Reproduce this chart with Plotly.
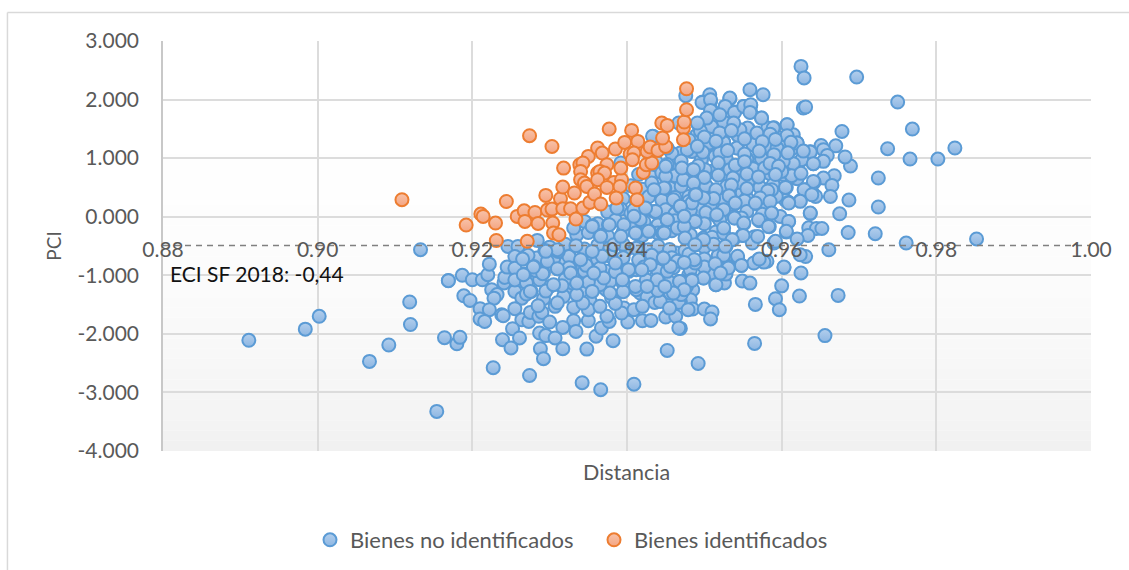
import plotly.graph_objects as go

x_ticks = [0.88, 0.90, 0.92, 0.94, 0.96, 0.98, 1.00]
x_ticklabels = ["0.88", "0.90", "0.92", "0.94", "0.96", "0.98", "1.00"]
y_ticks = [3, 2, 1, 0, -1, -2, -3, -4]
y_ticklabels = ["3.000", "2.000", "1.000", "0.000", "-1.000", "-2.000", "-3.000", "-4.000"]
eci_x = [0.88, 1.00]
eci_y = [-0.49, -0.49]

blue_outer = [
(.8911,-2.11),(.8984,-1.92),(.9002,-1.70),(.9067,-2.47),(.9092,-2.19),(.9120,-1.84),(.9119,-1.456),(.9133,-.563),
(.9154,-3.324),(.9164,-2.066),(.9180,-2.17),(.9184,-2.06),(.9169,-1.09),(.9625,2.566),(.9629,2.37),(.9697,2.385),
(.9750,1.958),(.9628,1.856),(.9631,1.873),(.9678,1.456),(.9769,1.497),(.9737,1.161),(.9824,1.173),(.9766,.985),
(.9802,.985),(.9725,.661),(.9725,.166),(.9687,.285),(.9675,.05),(.9686,-.27),(.9721,-.29),(.9761,-.45),(.9852,-.38),
(.9689,.865),(.9682,1.02),(.9670,1.21),(.9651,1.217),(.9654,1.144),(.9659,1.047),(.9654,.945),(.9641,.905),(.9637,1.11),
(.9668,.70),(.9654,.66),(.9642,.59),(.9665,.535),(.9631,.46),(.964,.405),(.9644,.347),(.9663,.347),(.9624,.273),(.9637,.056),
(.9609,.24),(.9605,.28),(.9566,.227),(.9609,-.08),(.9635,-.19),(.9645,-.2),(.9652,-.2),(.9606,-.26),(.9634,-.32),(.962,-.38),
(.959,-.45),(.9584,-.17),(.9571,-.07),(.9551,-.12),(.9549,-.32),(.9565,-.34),(.9562,-.45),(.9661,-.565),
]
blue_lower_right = [
(.9631,-.68),(.9624,-.65),(.9603,-.865),(.9625,-.96),(.9600,-1.18),(.9623,-1.354),(.9673,-1.343),(.9592,-1.4),(.9597,-1.588),
(.9566,-1.497),(.9656,-2.03),(.9565,-2.163),(.9492,-2.505),(.9549,-1.098),(.9559,-1.133),(.9515,-1.16),(.9526,-1.13),
(.9499,-1.047),(.9528,-.98),(.9518,-.99),(.9510,-.96),(.9548,-.83),(.9532,-.85),(.9515,-.79),(.9581,-.76),(.9570,-.735),
(.9577,-.775),(.9564,-.79),(.9543,-.70),(.9518,-.665),(.9488,-.48),(.9488,-.745),(.9474,-.78),(.9484,-1.087),(.948,-.99),
(.9471,-1.10),(.9475,-1.246),(.9485,-1.246),(.9482,-1.417),(.9469,-1.446),(.9485,-1.576),(.950,-1.576),(.9510,-1.627),
(.9508,-1.746),(.9469,-1.907),
]
blue_lower_left = [
(.9169,-1.093),(.9187,-1.0),(.9200,-1.076),(.9213,-1.076),(.9220,-.99),(.9222,-.81),(.9189,-1.35),(.9197,-1.43),(.9225,-1.246),
(.9232,-1.33),(.9228,-1.39),(.9241,-1.13),(.9242,-1.036),(.9255,-1.275),(.9276,-1.275),(.9264,-1.39),(.9255,-1.57),(.9210,-1.57),
(.9222,-1.588),(.9210,-1.746),(.9216,-1.787),(.9238,-1.673),(.9240,-1.69),(.9264,-1.76),(.9273,-1.787),(.9275,-1.634),(.9286,-1.70),
(.9290,-1.634),(.930,-1.798),(.9252,-1.912),(.9287,-1.986),(.9295,-2.03),(.9239,-2.10),(.9261,-2.07),(.9250,-2.24),(.9307,-2.07),
(.9317,-2.254),(.9288,-2.254),(.9292,-2.424),(.9227,-2.578),(.9274,-2.71),(.9342,-2.834),(.9366,-2.954),(.9409,-2.86),(.9452,-2.283),
(.9348,-2.26),(.9382,-2.117),(.9360,-2.04),(.9367,-1.90),(.9377,-1.787),(.9374,-1.70),(.9331,-1.776),(.9317,-1.89),(.9334,-1.958),
(.9401,-1.798),(.942,-1.776),(.9431,-1.77),(.9450,-1.713),(.9463,-1.70),(.9467,-1.90),(.9350,-1.776),(.9396,-1.56),(.9393,-1.644),
(.9409,-1.588),(.9380,-1.378),(.9411,-1.218),(.9417,-1.303),(.9426,-1.37),(.9436,-1.463),(.9451,-1.463),(.9467,-1.463),(.9462,-1.303),
(.9447,-1.19),(.9393,-1.076),(.9356,-1.26),(.9373,-1.246),(.9344,-1.303),(.9352,-1.43),(.9350,-1.588),(.9331,-1.548),(.9307,-1.53),
(.9292,-1.40),(.9316,-1.19),(.9328,-1.234),(.9310,-.888),(.9292,-.96),(.9280,-1.02),(.9268,-.98),(.9296,-.763),(.9265,-.72),(.9245,-.86),
(.9294,-.575),(.9311,-.592),(.9333,-.49),(.9347,-.83),(.9368,-.68),(.9413,-.29),
(.9246,-.507),(.9259,-.507),(.9283,-.706),(.9320,-.791),(.9330,-.962),(.9356,-.649),(.9343,-.848),(.9374,-.933),(.9387,-.791),
(.9402,-.933),(.9412,-.905),(.9430,-.82),(.9455,-.848),(.9443,-.592),(.9464,-.62),(.9468,-1.104),(.9438,-1.019),(.9412,-1.246),
(.9343,-1.474),(.9300,-1.19),(.9318,-1.36),(.9287,-1.076),(.9330,-1.133),(.9378,-1.104),(.9365,-1.161),(.9443,-1.446),(.9479,-1.588),
(.9477,-1.19),(.9428,-.563),(.9399,-.563),(.9352,-.791),(.9326,-.563),(.9279,-.848),
]
blue_upper = [
(.9559,2.168),(.9576,2.083),(.9507,2.083),(.9508,1.968),(.9498,1.958),(.9533,2.015),(.9527,1.883),(.9539,1.787),(.9551,1.883),(.9560,1.90),
(.9560,1.787),(.9509,1.827),(.9574,1.685),(.9525,1.617),(.9492,1.588),(.9510,1.53),(.9557,1.502),(.9590,1.52),(.9582,1.515),(.9607,1.57),
(.9608,1.383),(.9615,1.40),(.9620,1.258),(.9598,1.344),(.9600,1.19),(.9613,1.16),(.9582,1.20),(.9563,1.23),(.9543,1.173),(.9544,1.383),
(.9525,1.275),(.9507,1.246),(.9490,1.383),(.9574,.996),(.9555,.985),(.9528,.996),(.9496,.961),(.9626,.973),(.9615,.905),(.9603,.927),
(.9563,.83),(.9577,.842),(.9540,.79),(.9509,.774),(.9485,.802),(.9585,.734),(.9603,.717),(.9613,.688),(.9620,.649),(.9528,.705),(.9548,.575),
(.9557,.603),(.9572,.507),(.9590,.546),(.9606,.50),(.9502,.534),(.9480,.632),(.9489,.393),(.9526,.278),(.9540,.234),(.9577,.176),(.9587,.063),
(.9598,.005),(.9515,.022),(.9539,-.022),(.9488,-.08),(.9475,-.176),(.9524,-.193),(.9515,-.26),(.9499,-.364),(.9537,-.393),(.9528,-.507),
(.9486,-.478),(.9593,.347),(.9533,.46),(.9514,.376),(.9499,.32),(.9477,.176),(.9495,.12),(.9549,.405),
(.9533,2.026),(.9497,1.952),(.9508,1.997),(.9527,1.883),(.9508,1.815),(.9539,1.781),(.9551,1.883),(.9560,1.912),(.9559,1.781),(.9574,1.684),
(.9589,1.514),(.9607,1.57),(.9556,1.514),(.9525,1.616),(.9492,1.582),(.9509,1.542),(.9490,1.388),(.9544,1.383),(.9525,1.269),(.9506,1.257),
(.9563,1.229),(.9581,1.2),(.9607,1.383),(.9620,1.257),(.9637,1.104),(.9626,.973),(.9641,.905),(.9615,.905),(.9602,.944),(.9574,.99),(.9555,.984),
(.9528,1.001),(.9496,.973),(.9485,.802),(.9472,.831),(.9449,.848),(.9460,.927),(.9509,.774),(.9528,.717),(.9563,.819),(.9578,.831),(.9546,.586),
(.9572,.5),(.9589,.546),(.9605,.5),(.9613,.7),(.9641,.603),(.9629,.461),(.9639,.375),(.9624,.262),(.9609,.244),(.9566,.233),(.9540,.233),(.9525,.29),
(.9502,.529),(.9489,.392),(.9469,.165),(.9448,.489),(.9430,.461),(.9477,.643),(.9514,.034),(.9538,.005),(.9587,.062),(.9637,.062),(.9423,.119),
(.9439,.062),(.9484,1.115),(.9434,1.371),
(.9514,1.03),(.9533,.802),(.9542,1.172),(.9469,1.087),(.9460,.518),(.9473,.631),(.9529,.518),(.9555,.318),(.9577,.205),(.9587,.461),(.9600,.774),
(.9447,.404),(.9480,.347),(.9508,.205),(.9501,.802),(.9520,1.087),(.9546,1.485),(.9568,1.428),(.9594,1.172),(.9503,1.684),(.9520,1.741),(.9538,1.599),
]
blue_center = [
(.9355,-.154),(.9365,-.319),(.9376,-.136),(.9387,.148),(.9409,.12),(.9425,.131),(.9437,.091),(.9417,-.051),(.9396,-.136),(.9412,-.279),(.9429,-.25),
(.9447,-.267),(.9452,-.051),(.9469,.165),(.9484,.233),(.9474,-.165),(.9488,-.08),(.9465,-.193),(.9449,.49),(.9432,.575),(.9450,.689),(.9473,.632),
(.9486,.575),(.9460,.29),(.9334,-.495),(.9368,-.677),(.9347,-.83),(.9294,-.575),(.9311,-.592),(.9284,-.404),(.9297,-.762),(.9310,-.888),(.9291,-.973),
(.9279,-.859),(.9265,-.723),(.9266,-.99),(.9275,-1.275),(.9316,-1.178),(.9327,-.962),(.9340,-.734),(.9355,-.592),(.9385,-.791),(.9402,-.905),(.9394,-1.076),
(.9411,-1.19),(.9430,-.819),(.9447,-.723),(.9419,-.905),(.9452,-.933),(.9468,-1.104),(.9484,-1.076),(.9474,-1.235),(.9439,-1.076),(.9488,-.791),(.9465,-.762),
(.9383,-.478),(.9355,-1.275),(.9378,-1.303),(.9426,-1.19),(.9456,-1.303),(.9305,-1.161),(.9335,-1.132),(.9370,-1.047),(.9357,-.962),
(.9488,.376),(.9469,.176),(.9499,.319),(.9516,.034),(.9540,.233),(.9566,.233),(.9609,.233),(.9587,.063),(.9525,-.193),(.9488,-.08),(.9474,-.165),(.9452,-.051),
(.9446,-.279),(.9539,-.023),(.9570,-.051),(.9551,-.108),(.9583,-.165),(.9609,-.08),(.9606,-.25),(.9550,-.319),(.9569,-.336),(.9499,-.393),(.9475,-.364),
(.9536,-.393),(.9592,-.421),(.9488,-.478),(.9527,-.506),(.9514,-.802),(.9543,-.677),(.9548,-.831),(.9571,-.723),(.9603,-.859),(.9487,-.734),(.9474,-.78),
(.9456,-.848),(.9447,-.706),(.9499,-1.047),(.9515,-1.161),(.9484,-1.087),(.9468,-1.104),(.9474,-1.246),(.9460,-1.303),(.9449,-1.19),(.9531,-.876),(.9521,-.962),
(.9450,.86),(.9471,.831),(.9486,.803),(.9448,.49),(.9469,.177),(.9489,.376),(.9452,-.051),(.9474,.006),(.9411,-.278),(.9428,-.25),(.9448,-.278),(.9387,.148),
(.9355,-.165),(.9377,-.136),(.9366,-.335),(.9392,-.335),(.9331,-.193),(.9310,-.563),(.9295,-.591),(.9424,.148),(.9435,.461),(.9433,1.372),(.9467,1.6),(.9491,1.6),
(.9409,.006),(.9491,1.201),(.9392,.917),(.9452,1.173),(.9476,2.066),
]
blue_fill = [
(.9495,1.46),(.9520,1.43),(.9535,1.47),(.9585,1.41),(.9480,1.31),(.9500,1.36),(.9515,1.29),(.9552,1.33),(.9575,1.28),(.9592,1.32),(.9612,1.27),
(.9458,1.08),(.9478,1.14),(.9498,1.10),(.9530,1.13),(.9552,1.07),(.9571,1.12),(.9590,1.06),(.9608,1.09),(.9628,1.12),
(.9438,.93),(.9452,.89),(.9470,.95),(.9492,.87),(.9518,.92),(.9540,.88),(.9552,.94),(.9585,.91),(.9596,.86),
(.9415,.72),(.9432,.68),(.9445,.75),(.9462,.70),(.9478,.74),(.9500,.67),(.9518,.71),(.9537,.66),(.9555,.73),(.9570,.68),(.9592,.72),(.9625,.74),
(.9405,.53),(.9420,.47),(.9440,.55),(.9455,.49),(.9470,.52),(.9515,.46),(.9535,.54),(.9555,.48),(.9582,.44),
(.9395,.31),(.9412,.27),(.9428,.34),(.9445,.28),(.9462,.33),(.9480,.26),(.9512,.31),(.9532,.36),(.9552,.27),(.9572,.32),(.9585,.26),
(.9375,.08),(.9392,.13),(.9405,.06),(.9418,.14),(.9435,.09),(.9450,.12),(.9462,.05),(.9482,.11),(.9502,.07),(.9525,.12),(.9555,.09),(.9575,.04),
(.9345,-.08),(.9362,-.12),(.9385,-.06),(.9405,-.13),(.9422,-.09),(.9440,-.14),(.9462,-.07),(.9500,-.12),(.9520,-.06),(.9548,-.02),
(.9335,-.31),(.9350,-.27),(.9375,-.33),(.9395,-.26),(.9420,-.32),(.9440,-.28),(.9458,-.24),(.9482,-.31),(.9510,-.35),(.9525,-.28),
(.9300,-.52),(.9320,-.47),(.9345,-.55),(.9362,-.49),(.9378,-.53),(.9395,-.47),(.9412,-.54),(.9440,-.50),(.9455,-.56),(.9475,-.58),(.9500,-.52),(.9512,-.47),
(.9255,-.68),(.9272,-.66),(.9305,-.72),(.9325,-.68),(.9362,-.73),(.9378,-.67),(.9395,-.70),(.9415,-.74),(.9432,-.66),(.9458,-.70),(.9480,-.64),(.9500,-.72),(.9525,-.66),
(.9255,-.88),(.9282,-.92),(.9325,-.87),(.9345,-.93),(.9365,-.88),(.9385,-.94),(.9422,-.86),(.9440,-.92),(.9460,-.87),(.9482,-.91),(.9500,-.86),
(.9255,-1.08),(.9270,-1.13),(.9320,-1.07),(.9350,-1.12),(.9395,-1.14),(.9425,-1.08),(.9455,-1.12),
(.9270,-1.32),(.9295,-1.27),(.9335,-1.33),(.9395,-1.28),(.9440,-1.26),(.9470,-1.33),
(.9285,-1.52),(.9310,-1.47),(.9365,-1.53),(.9385,-1.48),(.9420,-1.53),(.9455,-1.56),
]
orange_points = [
(.9109,.29),(.9192,-.142),(.9211,.046),(.9214,.005),(.9230,-.108),(.9231,-.405),(.9244,.26),(.9258,.005),(.9267,.10),(.9268,-.08),(.9271,-.42),(.9281,.073),
(.9285,-.114),(.9274,1.383),(.9303,1.20),(.9295,.364),(.9297,.114),(.9304,-.108),(.9305,-.278),(.9312,-.307),(.9303,.13),(.9314,.307),(.9317,.507),(.9317,.137),
(.9327,.137),(.9334,-.04),(.9343,.148),(.9332,.405),(.9318,.83),(.9350,1.03),(.9339,.888),(.9343,.917),(.9340,.774),(.9340,.632),(.9345,.575),(.9348,.517),
(.9352,.244),(.9358,.388),(.9366,.217),(.9362,1.173),(.9368,1.087),(.9377,1.497),(.9374,.888),(.9362,.746),(.9365,.774),(.9371,.746),(.9362,.632),(.9383,.586),
(.9374,.50),(.9393,.632),(.9392,.83),(.9391,.517),(.9386,.32),(.9411,.49),(.9413,.29),(.9385,1.156),(.9397,1.269),(.9406,1.474),(.9414,1.286),(.9404,1.07),
(.9409,1.087),(.9407,.973),(.9421,.757),(.9425,.888),(.9432,.917),(.9426,1.115),(.9430,1.19),(.9440,1.132),(.9450,1.20),(.9446,1.344),(.9445,1.6),(.9452,1.559),
(.9473,1.515),(.9474,1.617),(.9477,1.827),(.9477,2.185),(.9473,1.315),
]
blue_points = blue_outer + blue_lower_right + blue_lower_left + blue_upper + blue_fill + blue_center

W, H = 1129, 570
L, T, R, B = 163, 41, 1090.7, 451
TXT = "#595959"
FONT = "Lato"

shapes = []
n = 40
for i in range(n):
    t = i / (n - 1)
    c = int(round(255 - 14 * t ** 2.5))
    shapes.append(dict(type="rect", xref="paper", yref="paper", x0=0, x1=1, y0=1 - (i + 1) / n, y1=1 - i / n,
                       fillcolor=f"rgb({c},{c},{c})", line=dict(width=0), layer="below"))
px = lambda v: (v - L) / (R - L)
py = lambda v: (B - v) / (B - T)
shapes.append(dict(type="line", xref="paper", yref="paper", x0=px(7.5), x1=px(7.5), y0=py(12.5), y1=py(570),
                   line=dict(color="#d9d9d9", width=1.5)))
shapes.append(dict(type="line", xref="paper", yref="paper", x0=px(7.5), x1=px(1129), y0=py(12.5), y1=py(12.5),
                   line=dict(color="#d9d9d9", width=1.5)))

fig = go.Figure()
fig.add_trace(go.Scatter(x=[p[0] for p in blue_points], y=[p[1] for p in blue_points], mode="markers",
                         name="Bienes no identificados",
                         marker=dict(size=13, color="#b3cfed", gradient=dict(type="vertical", color="#8db6e2"),
                                     line=dict(color="#5b9bd5", width=2))))
fig.add_trace(go.Scatter(x=[p[0] for p in orange_points], y=[p[1] for p in orange_points], mode="markers",
                         name="Bienes identificados",
                         marker=dict(size=13, color="#f8c3aa", gradient=dict(type="vertical", color="#f4a582"),
                                     line=dict(color="#ed7d31", width=2))))
fig.add_trace(go.Scatter(x=eci_x, y=eci_y, mode="lines", showlegend=False, hoverinfo="skip",
                         line=dict(color="#808080", width=1.5, dash="6px,5px")))

fig.update_layout(
    width=W, height=H, margin=dict(l=L, r=W - R, t=T, b=H - B),
    paper_bgcolor="white", plot_bgcolor="rgba(0,0,0,0)", font=dict(family=FONT, size=21, color=TXT),
    shapes=shapes,
    xaxis=dict(range=[0.88, 1.0], tickvals=x_ticks, ticktext=x_ticklabels, anchor="free", position=py(235),
               showgrid=True, gridcolor="#dcdcdc", gridwidth=1.5, zeroline=False, showline=False, ticks="", ticklen=0,
               tickfont=dict(family=FONT, size=21, color=TXT)),
    yaxis=dict(range=[-4, 3], tickvals=y_ticks, ticktext=y_ticklabels, showgrid=True, gridcolor="#dcdcdc", gridwidth=1.5,
               zeroline=False, showline=True, linecolor="#c8c8c8", linewidth=1.5, ticks="", ticklabelstandoff=18,
               tickfont=dict(family=FONT, size=21, color=TXT),
               title=dict(text="PCI", font=dict(family=FONT, size=19, color=TXT), standoff=11)),
    legend=dict(orientation="h", xref="container", yref="container", x=310 / W, y=(H - 540) / H,
                xanchor="left", yanchor="middle", entrywidth=239,
                font=dict(family=FONT, size=22, color=TXT), bgcolor="rgba(0,0,0,0)"),
    annotations=[
        dict(text="ECI SF 2018: -0,44", xref="x", yref="y", x=0.8807, y=-0.97, xanchor="left", yanchor="middle",
             showarrow=False, font=dict(family=FONT, size=21, color="#111111")),
        dict(text="Distancia", xref="paper", yref="paper", x=px(626), y=py(472), xanchor="center", yanchor="middle",
             showarrow=False, font=dict(family=FONT, size=21.5, color=TXT)),
    ],
)
fig.write_html("out.html", post_script="document.body.style.margin='0';", config=dict(displayModeBar=False))
